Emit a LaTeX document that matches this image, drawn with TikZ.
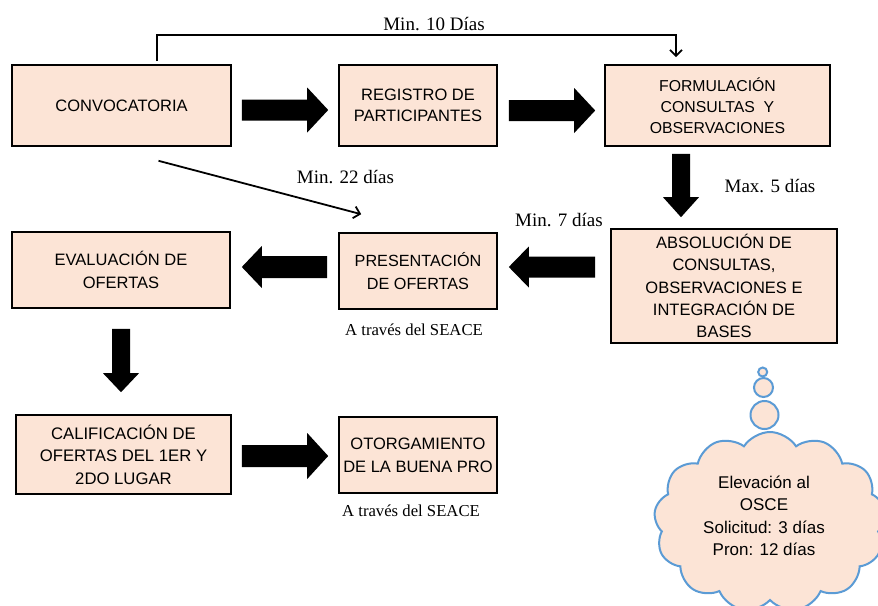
\documentclass[tikz,border=0pt]{standalone}
\usepackage{fontspec}
\setmainfont{Liberation Serif}
\setsansfont{Liberation Sans}
\usetikzlibrary{calc,arrows.meta,shapes.symbols}
\definecolor{peach}{HTML}{FCE4D6}
\definecolor{cloudblue}{HTML}{5B9BD5}
\tikzset{
  box/.style={draw=black, line width=1.6pt, fill=peach, align=center, inner sep=0pt,
    font=\sffamily\fontsize{16.5}{21.5}\selectfont},
  lbl/.style={font=\fontsize{19}{22}\selectfont, inner sep=0pt, anchor=base},
  seace/.style={font=\fontsize{16.7}{20}\selectfont, inner sep=0pt, anchor=base},
  thinarrow/.style={line width=1.8pt, -{Straight Barb[length=6pt,width=12pt]}},
  fat/.style={fill=black},
  bubble/.style={circle, draw=cloudblue, fill=peach, line width=2pt, inner sep=0pt},
}
% horizontal fat arrow: start, end, half shaft, half head, head length
\newcommand\fatH[5]{\fill[fat] let \p1=(#1), \p2=(#2), \n1={sign(\x2-\x1)} in
  (\x1,{\y1+#3}) -- ({\x2-(\n1)*#5},{\y1+#3}) -- ({\x2-(\n1)*#5},{\y1+#4}) -- (\x2,\y1)
  -- ({\x2-(\n1)*#5},{\y1-#4}) -- ({\x2-(\n1)*#5},{\y1-#3}) -- (\x1,{\y1-#3}) -- cycle;}
% downward fat arrow
\newcommand\fatV[5]{\fill[fat] let \p1=(#1), \p2=(#2) in
  ({\x1-#3},\y1) -- ({\x1-#3},{\y2+#5}) -- ({\x1-#4},{\y2+#5}) -- (\x1,\y2)
  -- ({\x1+#4},{\y2+#5}) -- ({\x1+#3},{\y2+#5}) -- ({\x1+#3},\y1) -- cycle;}
\begin{document}
\begin{tikzpicture}[x=1pt,y=-1pt]
\useasboundingbox (0,0) rectangle (878,605);
\fill[white] (0,0) rectangle (878,605);
\clip (0,0) rectangle (878,605);

% boxes
\node[box, minimum width=219pt, minimum height=81pt] (conv) at (121.5,105.5) {CONVOCATORIA};
\node[box, minimum width=158pt, minimum height=81pt] (reg) at (418,105.5) {REGISTRO DE\\PARTICIPANTES};
\node[box, minimum width=225pt, minimum height=81pt, font=\sffamily\fontsize{15.8}{21}\selectfont] (form) at (717.5,105.5) {FORMULACIÓN\\CONSULTAS\ \ Y\\OBSERVACIONES};
\node[box, minimum width=226pt, minimum height=114pt, font=\sffamily\fontsize{16.5}{22.3}\selectfont] (absol) at (724,286) {ABSOLUCIÓN DE\\CONSULTAS,\\OBSERVACIONES E\\INTEGRACIÓN DE\\BASES};
\node[box, minimum width=158pt, minimum height=76pt, font=\sffamily\fontsize{16.2}{22.5}\selectfont] (pres) at (418,271) {PRESENTACIÓN\\DE OFERTAS};
\node[box, minimum width=218pt, minimum height=76pt, font=\sffamily\fontsize{16.5}{22.5}\selectfont] (evalu) at (121,270) {EVALUACIÓN DE\\OFERTAS};
\node[box, minimum width=215pt, minimum height=79pt, font=\sffamily\fontsize{16.7}{22.5}\selectfont] (calif) at (123.5,454.5) {CALIFICACIÓN DE\\OFERTAS DEL 1ER Y\\2DO LUGAR};
\node[box, minimum width=158pt, minimum height=76pt, font=\sffamily\fontsize{16.5}{23}\selectfont] (otorg) at (418,455) {OTORGAMIENTO\\DE LA BUENA PRO};

% fat arrows
\fatH{$(conv.east)+(10,4.5)$}{$(reg.west)+(-10,4.5)$}{10.5pt}{22.5pt}{21pt}
\fatH{$(reg.east)+(11,5)$}{$(form.west)+(-9,5)$}{10.5pt}{22.5pt}{21pt}
\fatV{$(form.south)+(-36.5,7)$}{$(absol.north)+(-43,-11)$}{9pt}{18pt}{20pt}
\fatH{$(absol.west |- pres.center)+(-15,-4)$}{$(pres.east)+(11,-4)$}{10.5pt}{20.5pt}{20pt}
\fatH{$(pres.west)+(-11,-4)$}{$(evalu.east)+(11,-3)$}{11pt}{21pt}{20pt}
\fatV{$(evalu.south)+(0,20)$}{$(calif.north)+(-2.5,-22)$}{9pt}{18pt}{19pt}
\fatH{$(calif.east)+(10,1.5)$}{$(otorg.west)+(-10,1.5)$}{11pt}{23pt}{21pt}

% thin connectors
\draw[thinarrow] ($(conv.north)+(35.5,-3)$) -- ++(0,-26) -| ($(form.north)+(-41.5,-7)$);
\draw[thinarrow] ($(conv.south)+(37,14)$) -- ($(pres.north west)+(23,-18)$);

% labels
\node[lbl] (l10) at (434,30) {Min. 10 Días};
\node[lbl] (l22) at (345.5,183) {Min. 22 días};
\node[lbl] (l5) at (770,192) {Max. 5 días};
\node[lbl] (l7) at (559,226) {Min. 7 días};
\node[seace] (s1) at (414,335) {A través del SEACE};
\node[seace] (s2) at (411,516) {A través del SEACE};

% cloud
\node[cloud, cloud puffs=13, cloud puff arc=115, aspect=1.3, draw=cloudblue, fill=peach,
  line width=2pt, minimum width=232pt, minimum height=180pt] (cloud) at (770,522) {};
\node[align=center, inner sep=0pt, font=\sffamily\fontsize{17}{22.5}\selectfont] (cloudtxt) at (764,516)
  {Elevación al\\OSCE\\Solicitud: 3 días\\Pron: 12 días};
\node[bubble, minimum size=28pt] (b3) at (764.5,415) {};
\node[bubble, minimum size=19pt] (b2) at (763.5,387.5) {};
\node[bubble, minimum size=9pt] (b1) at (762.7,372) {};
\end{tikzpicture}
\end{document}
